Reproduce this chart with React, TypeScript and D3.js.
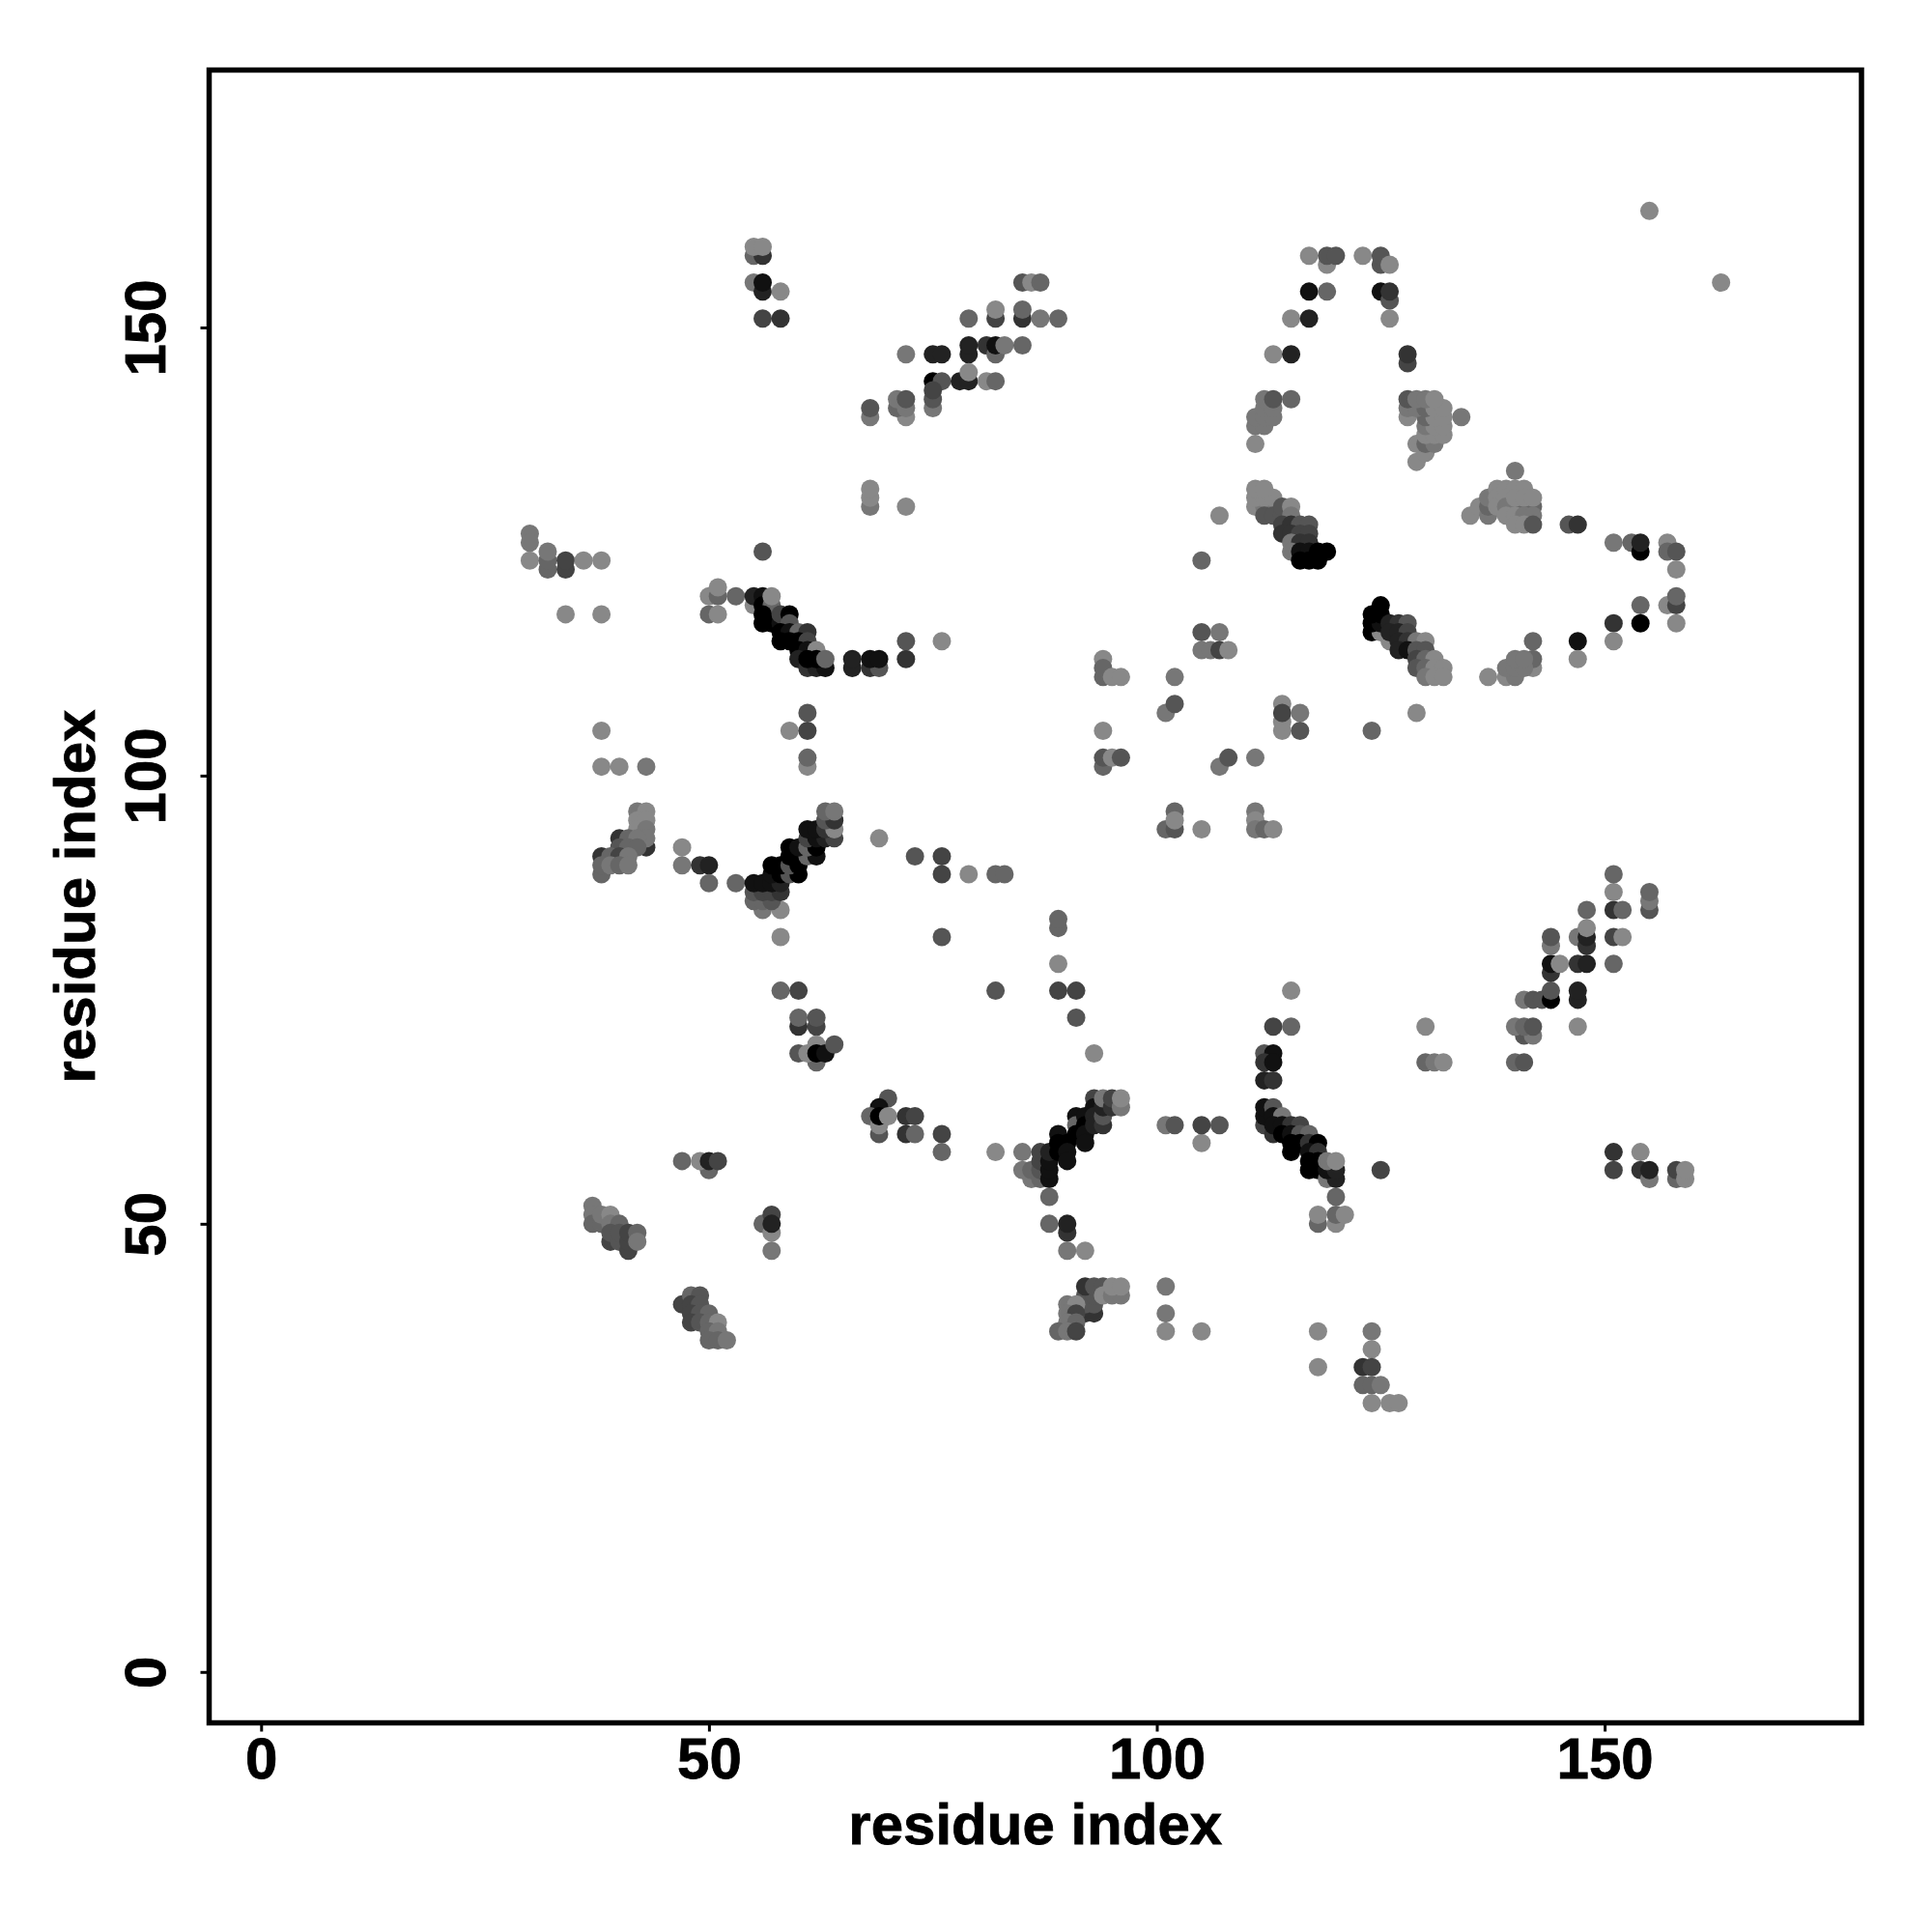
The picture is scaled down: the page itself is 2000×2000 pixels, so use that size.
import { useEffect, useRef } from "react";
import * as d3 from "d3";

// contacts are [residue i, residue j, score], score 0 (weak) .. 8 (strong)
type Contact = [number, number, number];

const topLeftContacts: Contact[] = [
  [55,158,2],[56,158,5],[55,159,0],[56,159,0],
  [55,155,1],[56,154,6],[56,155,7],[58,154,0],[56,151,4],[58,151,5],
  [30,127,1],[30,126,1],[30,124,0],[32,123,2],[32,124,2],[32,125,1],[34,123,4],[34,124,4],[36,124,0],[38,124,0],[34,118,0],[38,118,0],
  [56,125,3],[50,120,0],[51,120,2],[51,121,0],[50,118,2],[51,118,0],[53,120,2],
  [55,119,0],[55,120,6],[56,120,7],[56,119,8],[57,119,2],[57,120,0],[56,118,8],[56,117,8],[57,117,8],[58,117,7],[58,118,4],[59,118,8],[59,117,3],
  [58,116,8],[59,116,7],[60,116,2],[61,116,5],[58,115,8],[59,115,8],[60,115,8],[61,115,4],[60,114,8],[61,114,7],[62,114,0],
  [60,113,6],[61,112,5],[62,112,6],[63,112,7],[61,113,8],[62,113,8],[63,113,2],
  [66,112,6],[66,113,6],[68,112,5],[69,112,3],[68,113,7],[69,113,7],[72,113,5],[72,115,3],[76,115,0],
  [61,107,3],[59,105,0],[61,105,4],[61,101,0],[61,102,2],[38,105,0],[38,101,0],[40,101,0],[43,101,1],
  [94,113,0],[94,111,2],[94,112,2],[95,111,0],[94,105,0],[94,101,2],[94,102,3],[95,102,0],
];

const upperChainContacts: Contact[] = [
  [85,155,3],[86,155,0],[87,155,2],[79,151,2],[82,151,4],[82,152,0],[85,151,5],[85,152,2],[87,151,1],[89,151,2],
  [72,147,1],[75,147,6],[76,147,6],[79,147,6],[79,148,6],[81,148,5],[82,147,2],[82,148,7],[83,148,1],[85,148,2],
  [75,144,8],[76,144,3],[78,144,6],[79,144,6],[79,145,0],[81,144,0],[82,144,2],
  [75,141,1],[75,142,3],[75,143,4],[68,140,1],[68,141,3],[72,140,0],[71,141,2],[71,142,1],[72,141,1],[72,142,3],
  [68,130,1],[68,131,0],[68,132,0],[72,130,0],
];

const topRightContacts: Contact[] = [
  [155,163,0],[163,155,0],
  [117,158,0],[119,157,0],[119,158,3],[120,158,3],[123,158,0],[125,157,3],[125,158,3],[126,157,0],
  [117,154,7],[119,154,2],[125,154,7],[126,153,3],[126,154,5],[115,151,0],[117,151,6],[126,151,0],
  [113,147,0],[115,147,6],[128,146,4],[128,147,5],
  [111,137,0],[111,139,1],[112,139,1],[111,140,1],[112,140,1],[113,140,1],[112,141,1],[113,141,1],[112,142,1],[113,142,3],[115,142,2],
  [129,135,0],[130,136,0],[129,137,0],[130,137,2],[131,137,1],[130,138,0],[131,138,0],[132,138,0],[130,139,1],[131,139,0],[132,139,0],
  [128,140,0],[130,140,2],[131,140,0],[132,140,0],[134,140,1],[128,141,1],[129,141,1],[130,141,2],[131,141,0],[132,141,0],
  [128,142,3],[129,142,1],[130,142,1],[131,142,0],
  [111,130,0],[112,130,1],[113,130,1],[111,131,0],[112,131,0],[113,131,0],[111,132,0],[112,132,0],
  [112,129,3],[113,129,3],[114,129,3],[114,130,3],[115,130,0],[115,129,1],
  [114,128,4],[115,128,5],[116,128,3],[117,128,3],[114,127,5],[115,127,5],[116,127,4],[117,127,4],
  [115,126,1],[116,126,5],[117,126,5],[115,125,1],[116,125,7],[117,125,7],[118,125,8],[119,125,8],[116,124,8],[117,124,8],[118,124,8],
  [107,129,0],[105,124,2],
  [140,134,1],[135,129,0],[136,130,0],[137,129,1],[137,130,2],[137,131,1],[138,132,0],[138,131,0],[138,130,0],[139,132,0],[139,131,0],
  [140,130,2],[141,130,2],[142,130,2],[139,130,1],[140,132,0],[141,132,0],[140,131,0],[141,131,0],[142,131,0],
  [139,129,0],[140,129,0],[141,129,1],[142,129,1],[140,128,0],[141,128,0],[142,128,3],
  [146,128,3],[147,128,5],
  [151,126,1],[153,126,2],[154,125,8],[154,126,6],[157,126,0],[157,125,2],[158,125,3],[158,123,0],
  [157,119,0],[158,119,4],[158,120,2],[154,119,2],[151,117,5],[154,117,8],[158,117,0],[151,115,0],[147,115,7],[147,113,0],
  [142,115,2],[142,112,0],[142,113,2],[137,111,0],[139,111,0],[140,111,1],[139,112,1],[140,112,1],[141,112,1],[140,113,1],[141,113,1],
  [124,116,8],[125,116,0],[124,117,8],[125,117,7],[124,118,8],[125,118,8],[125,119,8],
  [126,117,6],[127,117,5],[128,117,3],[126,115,0],[126,116,6],[127,116,6],[128,116,4],[127,115,6],[128,115,5],[129,115,1],[130,115,0],
  [127,114,6],[128,114,7],[129,114,3],[130,114,3],[129,113,4],[130,113,2],[131,113,0],[129,112,3],[130,112,2],[131,112,0],[132,112,0],[130,111,1],[131,111,0],[132,111,0],
  [105,116,3],[107,116,1],[105,114,1],[106,114,1],[107,114,4],[108,114,0],
  [96,111,0],[102,111,1],[101,107,1],[102,108,3],[114,105,0],[114,106,0],[114,108,0],[114,107,4],[116,107,1],[116,105,3],[129,107,0],[124,105,2],
  [96,102,3],[107,101,1],[108,102,3],[111,102,1],
];

const middleContacts: Contact[] = [
  [42,96,1],[43,96,0],[42,95,0],[43,95,0],[42,94,0],[43,94,1],[43,92,5],[43,93,1],[40,93,5],[41,93,2],[42,93,1],[40,92,3],[41,92,2],[42,92,2],
  [38,91,5],[39,91,2],[40,91,4],[41,91,1],[38,89,2],[38,90,2],[39,90,1],[40,90,2],[41,90,1],
  [47,92,0],[47,90,1],[49,90,5],[50,90,6],[50,88,2],[53,88,2],
  [56,85,1],[58,85,0],[55,86,2],[56,86,2],[57,86,3],[55,87,3],[56,87,4],[57,87,4],[58,87,5],[55,88,7],[56,88,7],[57,88,7],[58,88,6],[58,82,0],
  [57,89,7],[58,89,8],[59,89,3],[60,89,8],[57,90,8],[58,90,8],[59,90,3],[60,90,8],
  [59,91,8],[60,91,8],[61,91,2],[62,91,7],[59,92,8],[60,92,7],[61,92,2],[62,92,8],
  [61,93,4],[62,93,7],[63,93,6],[64,93,4],[61,94,7],[62,94,7],[63,94,5],[64,94,0],[63,95,3],[64,95,5],[63,96,2],[64,96,1],
  [69,93,0],[73,91,3],[76,91,4],[76,89,4],[79,89,0],[82,89,2],[83,89,2],[76,82,3],
  [89,83,2],[89,84,2],[89,79,0],[82,76,3],[89,76,4],[91,76,4],[91,73,3],[93,69,0],
  [58,76,2],[60,76,4],[60,72,5],[60,73,2],[62,72,4],[62,73,3],
  [62,68,2],[60,69,3],[61,69,0],[62,70,0],[62,69,8],[63,69,7],[64,70,3],
  [101,94,2],[102,96,2],[102,94,3],[102,95,0],[105,94,0],[111,96,1],[111,95,0],[111,94,1],[112,94,2],[113,94,0],
];

const lowerLeftContacts: Contact[] = [
  [70,64,3],[69,63,7],[68,62,2],[69,60,3],[69,61,0],[69,62,8],[70,62,0],[72,62,5],[73,62,4],[72,60,5],[73,60,2],[76,60,4],[76,58,2],
  [47,57,2],[50,56,2],[49,57,0],[50,57,6],[51,57,4],
  [37,52,1],[37,51,1],[37,50,2],[38,50,2],[38,51,1],[39,51,0],[39,50,1],[40,50,2],[39,48,4],[39,49,3],[40,48,3],[40,49,3],[41,47,4],[41,48,4],[41,49,4],[42,49,2],[42,48,1],
  [56,50,2],[57,51,4],[57,49,0],[57,50,6],[57,47,1],
  [47,41,4],[48,42,2],[49,42,3],[48,41,4],[49,41,3],[48,40,4],[49,40,3],[50,40,2],[48,39,4],[49,39,3],[50,39,2],[51,39,0],[50,38,2],[51,38,1],[50,37,2],[51,37,2],[52,37,1],
];

const lowerMiddleContacts: Contact[] = [
  [82,58,0],[85,58,1],[85,56,1],[86,55,1],[86,56,2],[87,55,2],[87,56,3],[87,57,4],[87,58,4],[88,55,7],[88,56,7],[88,57,7],[88,58,6],[88,53,2],
  [89,60,7],[89,59,8],[89,58,8],[90,59,8],[90,58,7],[90,57,7],
  [91,62,7],[91,61,2],[91,60,8],[92,62,7],[92,61,8],[92,60,7],[92,59,7],
  [93,64,4],[93,63,7],[93,62,6],[93,61,6],[94,61,5],[94,62,3],[94,63,6],[94,64,1],[95,63,5],[95,64,4],[96,63,1],[96,64,0],
  [88,50,2],[90,49,5],[90,50,6],[90,47,1],[92,47,0],
  [101,61,1],[102,61,3],[105,59,0],[105,61,4],[107,61,3],
  [92,40,5],[93,40,5],[92,41,3],[93,41,3],[92,42,3],[93,42,3],[92,43,5],[93,43,3],[94,43,3],[94,42,0],[95,42,1],[96,42,1],[95,43,0],[96,43,0],
  [90,41,1],[91,41,0],[90,40,1],[91,40,4],[90,39,1],[91,39,2],[89,38,2],[90,38,1],[91,38,4],
  [101,43,1],[101,40,1],[101,38,0],[105,38,0],
];

const lowerRightContacts: Contact[] = [
  [115,76,0],[113,72,4],[115,72,2],[112,69,3],[113,69,7],[112,68,5],[113,68,7],[112,66,6],[113,66,5],
  [112,61,4],[112,62,7],[112,63,7],[113,63,3],[113,62,7],[114,62,1],[113,60,5],[113,61,7],[114,61,7],[115,61,5],[116,61,4],
  [114,60,8],[115,60,7],[116,60,3],[117,60,2],[115,59,8],[116,59,8],[117,59,5],[118,59,8],[115,58,8],[117,58,7],[118,58,5],
  [117,56,8],[118,56,8],[117,57,8],[118,57,8],[119,55,1],[120,55,6],[119,56,7],[120,56,6],[119,57,1],[120,57,0],[125,56,4],
  [120,53,2],[118,50,2],[118,51,0],[120,50,0],[120,51,2],[121,51,0],
  [118,38,0],[124,38,1],[124,36,0],[118,34,0],[123,34,5],[124,34,4],[123,32,2],[124,32,2],[125,32,1],[124,30,0],[126,30,0],[127,30,0],
  [130,72,0],[130,68,2],[131,68,1],[132,68,0],[140,68,2],[141,68,3],
  [141,71,3],[142,71,1],[140,72,1],[141,72,2],[142,72,3],[147,72,0],
  [141,75,1],[142,75,3],[143,75,3],[144,75,8],[144,76,3],[147,75,6],[147,76,6],
  [144,78,5],[144,79,7],[145,79,0],[147,79,5],[148,79,6],[151,79,2],
  [144,81,1],[144,82,3],[147,82,1],[148,81,5],[148,82,6],[148,83,0],[151,82,4],[152,82,0],
  [148,85,2],[151,85,5],[152,85,2],[155,85,3],[155,86,1],[155,87,2],[151,87,0],[151,89,2],
  [151,58,5],[154,58,0],[151,56,4],[154,56,5],[155,55,1],[155,56,6],[158,55,2],[158,56,4],[159,55,0],[159,56,0],
];

const contactGroups = [
  topLeftContacts, upperChainContacts, topRightContacts, middleContacts,
  lowerLeftContacts, lowerMiddleContacts, lowerRightContacts,
];

const xTicks = [0, 50, 100, 150];
const yTicks = [0, 50, 100, 150];
const axisTitle = "residue index";

export default function App() {
  const svgRef = useRef<SVGSVGElement>(null);

  useEffect(() => {
    const svg = d3.select(svgRef.current);
    svg.selectAll("*").remove();

    const left = 216.5, right = 1927, top = 72.5, bottom = 1783.5;
    const font = "'Liberation Sans', Arial, sans-serif";

    const boldText = (sel: any) =>
      sel.style("font-family", font)
        .style("font-size", "60px")
        .style("font-weight", "bold")
        .style("stroke", "#000")
        .style("stroke-width", "0.8px")
        .attr("fill", "#000");

    const x = d3.scaleLinear().domain([-5.8, 178.6]).range([left, right - 0.7]);
    const y = d3.scaleLinear().domain([-5.8, 178.6]).range([bottom + 1.1, top + 1.1]);
    const shade = d3.scaleLinear<string>().domain([0, 8]).range(["#888888", "#000000"]);

    // Points
    svg.append("g")
      .selectAll("circle")
      .data(contactGroups.flat())
      .enter()
      .append("circle")
      .attr("cx", d => x(d[0]))
      .attr("cy", d => y(d[1]))
      .attr("r", 9.5)
      .attr("fill", d => shade(d[2]));

    // Frame
    svg.append("rect")
      .attr("x", left)
      .attr("y", top)
      .attr("width", right - left)
      .attr("height", bottom - top)
      .attr("fill", "none")
      .attr("stroke", "#000")
      .attr("stroke-width", 5.5);

    // X axis
    const gx = svg.append("g")
      .attr("transform", `translate(0,${bottom})`)
      .call(d3.axisBottom(x).tickValues(xTicks).tickSize(9).tickPadding(6));
    gx.select(".domain").remove();
    gx.selectAll("line").attr("stroke", "#000").attr("stroke-width", 3);
    boldText(gx.selectAll("text"));

    // Y axis, labels rotated like R's default las
    const gy = svg.append("g")
      .attr("transform", `translate(${left},0)`)
      .call(d3.axisLeft(y).tickValues(yTicks).tickSize(9));
    gy.select(".domain").remove();
    gy.selectAll("line").attr("stroke", "#000").attr("stroke-width", 3);
    boldText(gy.selectAll("text"))
      .attr("x", 0)
      .attr("y", -46)
      .attr("dy", 0)
      .attr("transform", "rotate(-90)")
      .attr("text-anchor", "middle");

    // Titles
    boldText(svg.append("text"))
      .attr("x", (left + right) / 2)
      .attr("y", 1909)
      .attr("text-anchor", "middle")
      .text(axisTitle);

    boldText(svg.append("text"))
      .attr("transform", `translate(98,${(top + bottom) / 2}) rotate(-90)`)
      .attr("text-anchor", "middle")
      .text(axisTitle);
  }, []);

  return (
    <svg
      ref={svgRef}
      width={2000}
      height={2000}
      style={{ position: "absolute", left: 0, top: 0, background: "#fff" }}
    />
  );
}
